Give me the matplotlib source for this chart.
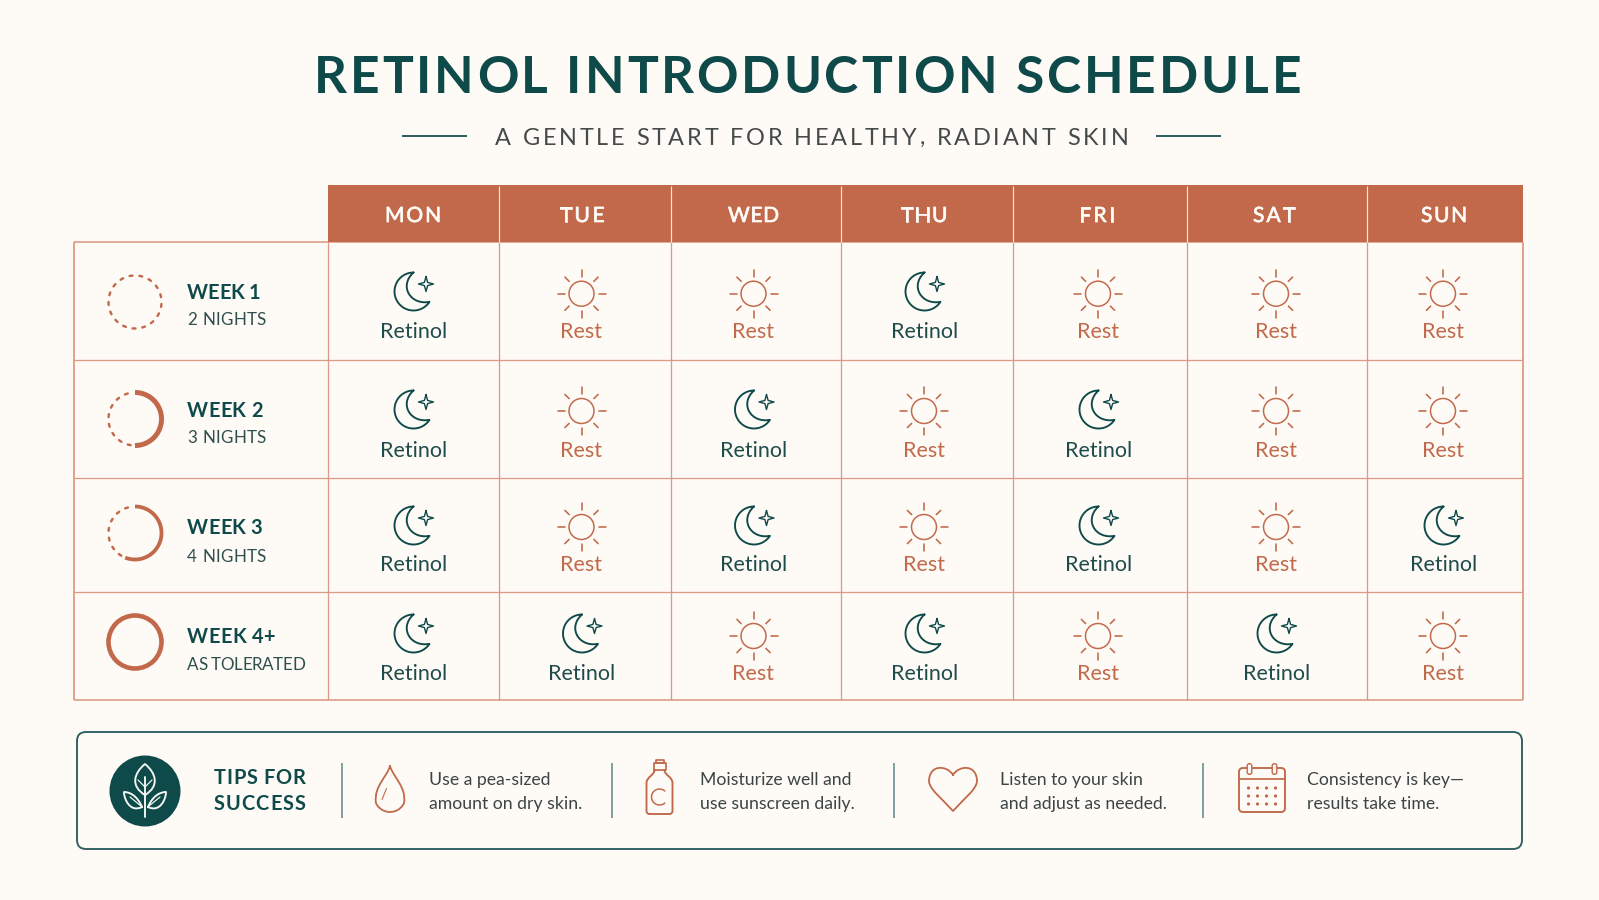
import numpy as np
import matplotlib
matplotlib.use("Agg")
import matplotlib.pyplot as plt
import matplotlib.patheffects as pe
import matplotlib.text as mtext
from matplotlib.patches import Circle, FancyBboxPatch, PathPatch, Rectangle
from matplotlib.path import Path
from matplotlib.transforms import Bbox, IdentityTransform

# ---------- content ----------
TITLE = "RETINOL INTRODUCTION SCHEDULE"
SUBTITLE = "A GENTLE START FOR HEALTHY, RADIANT SKIN"
DAYS = ["MON", "TUE", "WED", "THU", "FRI", "SAT", "SUN"]
WEEKS = ["WEEK 1", "WEEK 2", "WEEK 3", "WEEK 4+"]
WEEK_NOTES = ["2 NIGHTS", "3 NIGHTS", "4 NIGHTS", "AS TOLERATED"]
WEEK_PROGRESS = [0.0, 0.5, 0.56, 1.0]
WEEK1 = [1, 0, 0, 1, 0, 0, 0]
WEEK2 = [1, 0, 1, 0, 1, 0, 0]
WEEK3 = [1, 0, 1, 0, 1, 0, 1]
WEEK4 = [1, 1, 0, 1, 0, 1, 0]
SCHEDULE = [WEEK1, WEEK2, WEEK3, WEEK4]
LABEL_ON = "Retinol"
LABEL_OFF = "Rest"
TIPS_HEAD = ["TIPS FOR", "SUCCESS"]
TIP1 = ["Use a pea-sized", "amount on dry skin."]
TIP2 = ["Moisturize well and", "use sunscreen daily."]
TIP3 = ["Listen to your skin", "and adjust as needed."]
TIP4 = ["Consistency is key\u2014", "results take time."]

# ---------- layout (pixels) ----------
W, H = 1599, 900
COL_EDGES = [74, 328, 498.5, 670.5, 841, 1012.5, 1187, 1366.5, 1522.5]
COL_CENTERS = [413, 581.5, 753.5, 924, 1098, 1276, 1443]
HEAD_CENTERS = [413, 582, 753.5, 924, 1097, 1274, 1444]
HEAD_WIDTHS = [56, 45, 51, 47, 36, 42, 46]
ROW_EDGES = [242, 360, 478, 591.5, 700]
HEAD_TOP = 185
MOON_Y = [291.5, 409.5, 525.5, 633.5]
SUN_Y = [293.7, 411, 527, 636]
CELL_BASE = [338, 457, 571, 680]
RING_Y = [302, 419, 533, 642]
WEEK_BASE = [299, 417, 534, 643]
NOTE_BASE = [325, 443, 562, 670]
WEEK_WIDTHS = [73, 75.5, 75.5, 88]
NOTE_WIDTHS = [79, 79, 79, 118]

# ---------- styles ----------
BG = "#FEFBF6"
TEAL = "#0F4A4A"
TERRA = "#C1694A"
GRID = "#DC9A85"
INK = "#3B4444"
BOX = "#2F5F63"
PX = 0.72  # points per pixel at dpi 100


class SpacedText(mtext.Text):
    """One text artist drawn with letter spacing, fitted to a pixel width."""

    def __init__(self, x, y, s, width=None, **kw):
        super().__init__(x, y, s, va="baseline", **kw)
        self._target = width

    def _layout_chars(self, renderer):
        fp = self.get_fontproperties()
        s = self.get_text()
        mark = renderer.get_text_width_height_descent("|", fp, False)[0]
        adv = []
        for i in range(len(s)):
            w = renderer.get_text_width_height_descent(s[:i] + "|", fp, False)[0]
            adv.append(w - mark if i else 0.0)
        last = renderer.get_text_width_height_descent(s, fp, False)[0]
        total = last
        sp = 0.0
        if self._target is not None and len(s) > 1:
            sp = (self._target - last) / (len(s) - 1)
            total = self._target
        x0, y0 = self.get_transform().transform((self._x, self._y))
        ha = self.get_ha()
        x0 -= {"left": 0, "center": total / 2, "right": total}[ha]
        return [x0 + a + i * sp for i, a in enumerate(adv)], y0, total

    def draw(self, renderer):
        xs, y0, _ = self._layout_chars(renderer)
        for ch, xp in zip(self.get_text(), xs):
            if ch == " ":
                continue
            t = mtext.Text(xp, y0, ch, color=self.get_color(),
                           fontproperties=self.get_fontproperties(),
                           ha="left", va="baseline",
                           transform=IdentityTransform())
            t.set_figure(self.get_figure())
            t.set_path_effects(self.get_path_effects())
            t.draw(renderer)

    def get_window_extent(self, renderer=None, dpi=None):
        renderer = renderer or self.get_figure().canvas.get_renderer()
        xs, y0, total = self._layout_chars(renderer)
        size = self.get_fontsize() / PX
        return Bbox([[xs[0], y0 - 0.25 * size], [xs[0] + total, y0 + 0.75 * size]])


plt.rcParams["font.family"] = ["Lato", "DejaVu Sans"]
fig = plt.figure(figsize=(W / 100, H / 100), dpi=100, facecolor=BG)
ax = fig.add_axes([0, 0, 1, 1])
ax.set_xlim(0, W)
ax.set_ylim(H, 0)
ax.axis("off")


def spaced(x, y, s, width, size, color, weight="normal", ha="left", embolden=0):
    t = SpacedText(x, y, s, width=width, fontsize=size * PX, color=color,
                   fontweight=weight, ha=ha)
    if embolden:
        t.set_path_effects([pe.withStroke(linewidth=embolden, foreground=color)])
    ax.add_artist(t)


def label(x, y, s, size, color, weight="normal", ha="left"):
    ax.text(x, y, s, fontsize=size * PX, color=color, fontweight=weight, ha=ha, va="baseline")


def stroke(path_verts, codes, color, lw, fill="none", z=4):
    ax.add_patch(PathPatch(Path(path_verts, codes), fc=fill, ec=color, lw=lw * PX,
                           joinstyle="round", capstyle="round", zorder=z))


def arc_pts(cx, cy, r, a0, a1, n=50):
    t = np.radians(np.linspace(a0, a1, n))
    return np.column_stack([cx + r * np.cos(t), cy + r * np.sin(t)])


def line(x0, y0, x1, y1, color, lw, z=3, cap="round"):
    ax.plot([x0, x1], [y0, y1], color=color, lw=lw * PX, solid_capstyle=cap, zorder=z)


def moon(cx, cy):
    outer = arc_pts(cx, cy, 19, -90, -327)
    tip1 = outer[0]
    verts = [tuple(p) for p in outer] + [(cx - 3, cy + 14), (cx - 15, cy - 5.5), tuple(tip1)]
    codes = [Path.MOVETO] + [Path.LINETO] * (len(outer) - 1) + [Path.CURVE4] * 3
    stroke(verts, codes, TEAL, 1.9)
    sx, sy = cx + 12.5, cy - 7.5
    r, q = 7.5, 1.6
    star = [(sx, sy - r), (sx + q, sy - q), (sx + r, sy), (sx + q, sy + q),
            (sx, sy + r), (sx - q, sy + q), (sx - r, sy), (sx - q, sy - q), (sx, sy - r)]
    stroke(star, [Path.MOVETO] + [Path.LINETO] * 8, TEAL, 1.4)


def sun(cx, cy):
    ax.add_patch(Circle((cx, cy), 12.5, fc="none", ec=TERRA, lw=1.5 * PX, zorder=4))
    for a in np.radians(np.arange(0, 360, 45)):
        c, s = np.cos(a), np.sin(a)
        r0, r1 = (17, 24) if int(round(np.degrees(a))) % 90 == 0 else (17.5, 23.5)
        line(cx + r0 * c, cy + r0 * s, cx + r1 * c, cy + r1 * s, TERRA, 1.6)


def ring(cx, cy, frac):
    r = 26.5
    if frac >= 1:
        ax.add_patch(Circle((cx, cy), r, fc="none", ec=TERRA, lw=4.6 * PX, zorder=4))
        return
    a_end = -90 + 360 * frac
    if frac > 0:
        p = arc_pts(cx, cy, r, -90, a_end, 80)
        ax.plot(p[:, 0], p[:, 1], color=TERRA, lw=(5.0 if frac == 0.5 else 3.8) * PX,
                solid_capstyle="butt", zorder=4)
    step = 360 / 17
    a = a_end + step * 0.45
    while a < 270 - step * 0.3:
        p = arc_pts(cx, cy, r, a, a + step * 0.3, 6)
        ax.plot(p[:, 0], p[:, 1], color=TERRA, lw=2.4 * PX, solid_capstyle="round", zorder=4)
        a += step


def drop(cx, top, bottom):
    r = 15.5
    cy = bottom - r
    body = arc_pts(cx, cy, r, 25, 155, 30)
    verts = [(cx, top), (cx + 3, top + 11), (cx + r + 1, cy - 10), tuple(body[0])] + [tuple(p) for p in body[1:]]
    verts += [(cx - r - 1, cy - 10), (cx - 3, top + 11), (cx, top)]
    codes = [Path.MOVETO] + [Path.CURVE4] * 3 + [Path.LINETO] * (len(body) - 1) + [Path.CURVE4] * 3
    stroke(verts, codes, TERRA, 1.8)
    line(cx - 8, cy + 3, cx - 3.5, cy - 8, TERRA, 1.1)


def bottle(cx, top, bottom):
    hw = 13
    v = [(cx - 4, top + 3), (cx - 4, top), (cx + 4, top), (cx + 4, top + 3), (cx - 4, top + 3)]
    stroke(v, [Path.MOVETO] + [Path.LINETO] * 4, TERRA, 1.7)
    v = [(cx - 6, top + 10), (cx - 6, top + 3), (cx + 6, top + 3), (cx + 6, top + 10), (cx - 6, top + 10)]
    stroke(v, [Path.MOVETO] + [Path.LINETO] * 4, TERRA, 1.7)
    s = top + 23
    v = [(cx - 5, top + 10), (cx - 5, top + 15), (cx - hw, top + 17), (cx - hw, s),
         (cx - hw, bottom - 3), (cx - hw, bottom), (cx - hw + 3, bottom),
         (cx + hw - 3, bottom), (cx + hw, bottom), (cx + hw, bottom - 3),
         (cx + hw, s), (cx + hw, top + 17), (cx + 5, top + 15), (cx + 5, top + 10)]
    c = [Path.MOVETO, Path.CURVE4, Path.CURVE4, Path.CURVE4, Path.LINETO, Path.CURVE3, Path.CURVE3,
         Path.LINETO, Path.CURVE3, Path.CURVE3, Path.LINETO, Path.CURVE4, Path.CURVE4, Path.CURVE4]
    stroke(v, c, TERRA, 1.9)
    p = arc_pts(cx, top + 37, 8, -50, -310, 30)
    ax.plot(p[:, 0], p[:, 1], color=TERRA, lw=1.5 * PX, zorder=4)


def heart(cx, top, bottom):
    hw = 24
    h = bottom - top
    v = [(cx, top + h * 0.18),
         (cx - 6, top - 2), (cx - hw, top - 3), (cx - hw, top + h * 0.33),
         (cx - hw + 1, top + h * 0.52), (cx - 11, top + h * 0.72), (cx, bottom),
         (cx + 11, top + h * 0.72), (cx + hw - 1, top + h * 0.52), (cx + hw, top + h * 0.33),
         (cx + hw, top - 3), (cx + 6, top - 2), (cx, top + h * 0.18)]
    stroke(v, [Path.MOVETO] + [Path.CURVE4] * 12, TERRA, 1.8)


def calendar(x0, x1, top, bottom):
    ax.add_patch(FancyBboxPatch((x0 + 3, top + 3), x1 - x0 - 6, bottom - top - 6,
                                boxstyle="round,pad=3,rounding_size=4",
                                fc="none", ec=TERRA, lw=1.9 * PX, zorder=4))
    line(x0, top + 11, x1, top + 11, TERRA, 1.7)
    cx = (x0 + x1) / 2
    for dx in (-12.5, 12.5):
        ax.add_patch(FancyBboxPatch((cx + dx - 1, top - 3), 2, 8,
                                    boxstyle="round,pad=1.3,rounding_size=2.2",
                                    fc=BG, ec=TERRA, lw=1.4 * PX, zorder=5))
    for yy in (top + 20, top + 28, top + 36):
        for dx in (-13.5, -4.5, 4.5, 13.5):
            ax.add_patch(Circle((cx + dx, yy), 1.6, fc=TERRA, ec="none", zorder=4))


def leaf_badge(cx, cy, r):
    ax.add_patch(Circle((cx, cy), r, fc=TEAL, ec="none", zorder=4))
    white = "#F4F7F3"
    line(cx, cy - 14, cx, cy + 26, white, 1.9, z=5)
    v = [(cx, cy + 4), (cx - 15, cy - 5), (cx - 11, cy - 18), (cx, cy - 27),
         (cx + 11, cy - 18), (cx + 15, cy - 5), (cx, cy + 4)]
    stroke(v, [Path.MOVETO] + [Path.CURVE4] * 6, white, 1.9, z=5)
    for sgn in (-1, 1):
        v = [(cx + sgn * 3, cy + 16), (cx + sgn * 8, cy + 4), (cx + sgn * 16, cy + 1), (cx + sgn * 21, cy + 1),
             (cx + sgn * 21, cy + 8), (cx + sgn * 15, cy + 22), (cx + sgn * 3, cy + 16)]
        stroke(v, [Path.MOVETO] + [Path.CURVE4] * 6, white, 1.9, z=5)
        line(cx + sgn * 4, cy + 15, cx + sgn * 15, cy + 6, white, 1.2, z=5)
        line(cx, cy - 4, cx + sgn * 7, cy - 11, white, 1.2, z=5)


# ---------- title ----------
spaced(314, 93, TITLE, 987, 51.5, TEAL, "bold")
spaced(495, 145, SUBTITLE, 633.5, 23.5, "#454A4A", "normal")
line(402, 135.5, 467, 135.5, BOX, 2, cap="butt")
line(1156, 135.5, 1221, 135.5, BOX, 2, cap="butt")

# ---------- table ----------
ax.add_patch(Rectangle((COL_EDGES[1], HEAD_TOP), COL_EDGES[-1] - COL_EDGES[1], ROW_EDGES[0] - HEAD_TOP,
                       fc=TERRA, ec="none", zorder=2))
for x in COL_EDGES[2:-1]:
    line(x, HEAD_TOP + 1, x, ROW_EDGES[0], "#F7E6DC", 1.2, z=2.5, cap="butt")
for d, x, w in zip(DAYS, HEAD_CENTERS, HEAD_WIDTHS):
    spaced(x, 222, d, w, 21, "#FFFBF6", "normal", ha="center", embolden=0.5)

top_y, bot_y = ROW_EDGES[0], ROW_EDGES[-1]
for i, y in enumerate(ROW_EDGES):
    line(COL_EDGES[0], y, COL_EDGES[-1], y, GRID, 1.3 if 0 < i < len(ROW_EDGES) - 1 else 1.6, z=1.5, cap="butt")
for i, x in enumerate(COL_EDGES):
    line(x, top_y, x, bot_y, GRID, 1.3 if 0 < i < len(COL_EDGES) - 1 else 1.8, z=1.5, cap="butt")

for r, row in enumerate(SCHEDULE):
    ring(135, RING_Y[r], WEEK_PROGRESS[r])
    spaced(187, WEEK_BASE[r], WEEKS[r], WEEK_WIDTHS[r], 20, TEAL, "bold")
    spaced(187, NOTE_BASE[r], WEEK_NOTES[r], NOTE_WIDTHS[r], 17, "#2F4E4E", "normal")
    for c, on in enumerate(row):
        cx = COL_CENTERS[c]
        if on:
            moon(cx + 0.5, MOON_Y[r])
            label(cx + 0.5, CELL_BASE[r], LABEL_ON, 21.5, "#1F4B4B", ha="center")
        else:
            sun(cx, SUN_Y[r])
            label(cx, CELL_BASE[r], LABEL_OFF, 21.5, TERRA, ha="center")

# ---------- tips ----------
ax.add_patch(FancyBboxPatch((85, 740), 1429, 101, boxstyle="round,pad=8,rounding_size=9",
                            fc=BG, ec=BOX, lw=1.9 * PX, zorder=2))
leaf_badge(145, 791, 35.5)
spaced(214, 784, TIPS_HEAD[0], 91, 20, TEAL, "bold")
spaced(214, 810, TIPS_HEAD[1], 91, 20, TEAL, "bold")
for x in (342, 612, 894, 1203):
    line(x, 763, x, 818, "#5C8486", 1.5, cap="butt")
drop(390, 766, 812)
bottle(659.5, 760, 814)
heart(953, 767, 811)
calendar(1239, 1285, 768, 812)
for x, tip in zip((429, 699.5, 1000.5, 1307), (TIP1, TIP2, TIP3, TIP4)):
    label(x, 785, tip[0], 17.6, INK)
    label(x, 809, tip[1], 17.6, INK)

fig.savefig("out.png", dpi=100, facecolor=BG)
